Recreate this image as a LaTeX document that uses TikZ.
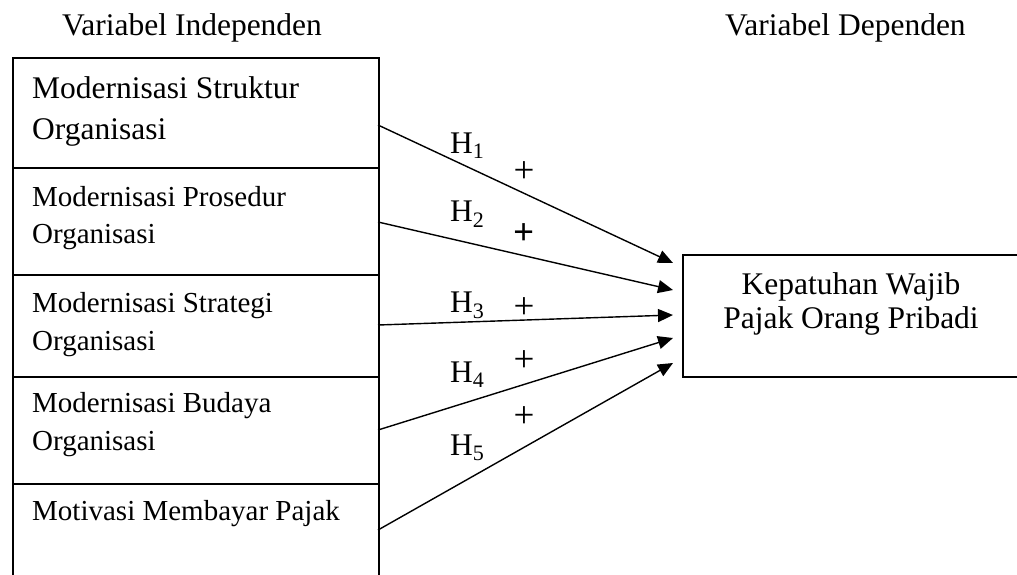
\documentclass[tikz,border=0pt]{standalone}
\usepackage{fontspec}
\setmainfont{Liberation Serif}
\usetikzlibrary{arrows.meta}
\begin{document}
\begin{tikzpicture}[x=1pt,y=-1pt,
  cell/.style={draw,line width=1.9pt,inner sep=0pt,anchor=north west},
  lbl/.style={inner sep=0pt,anchor=base west,font=\fontsize{29}{34}\selectfont},
  big/.style={inner sep=0pt,font=\fontsize{31.5}{36}\selectfont},
  sign/.style={inner sep=0pt,anchor=base,font=\fontsize{37}{40}\selectfont},
  hyp/.style={line width=1.4pt,-{Triangle[length=15pt,width=13pt]}},
]
\useasboundingbox (0,0) rectangle (1017,574);

% column titles
\node[big,anchor=base west] (ti) at (62,35) {Variabel Independen};
\node[big,anchor=base west] (td) at (725,35) {Variabel Dependen};

% stacked cells of the independent variables (last one runs past the bottom)
\node[cell,minimum width=366pt,minimum height=110pt] (c1) at (12,57) {};
\node[cell,minimum width=366pt,minimum height=107pt] (c2) at (12,167) {};
\node[cell,minimum width=366pt,minimum height=102pt] (c3) at (12,274) {};
\node[cell,minimum width=366pt,minimum height=107pt] (c4) at (12,376) {};
\node[cell,minimum width=366pt,minimum height=120pt] (c5) at (12,483) {};

\node[big,anchor=base west] (c1a) at (32,98) {Modernisasi Struktur};
\node[big,anchor=base west] (c1b) at (32,139) {Organisasi};
\node[lbl] (c2a) at (32,206) {Modernisasi Prosedur};
\node[lbl] (c2b) at (32,243) {Organisasi};
\node[lbl] (c3a) at (32,312) {Modernisasi Strategi};
\node[lbl] (c3b) at (32,350) {Organisasi};
\node[lbl] (c4a) at (32,412) {Modernisasi Budaya};
\node[lbl] (c4b) at (32,450) {Organisasi};
\node[lbl] (c5a) at (32,520) {Motivasi Membayar Pajak};

% dependent variable (right side runs past the edge)
\node[cell,minimum width=345pt,minimum height=122pt] (t) at (682,254) {};
\node[big,anchor=base] (ta) at (851,294) {Kepatuhan Wajib};
\node[big,anchor=base] (tb) at (851,328) {Pajak Orang Pribadi};

% arrow ends
\coordinate (s1) at (378,125);
\coordinate (s2) at (378,222);
\coordinate (s3) at (378,325);
\coordinate (s4) at (378,430);
\coordinate (s5) at (378,530);
\coordinate (e1) at (673,263);
\coordinate (e2) at (673,290);
\coordinate (e3) at (673,315);
\coordinate (e4) at (673,338);
\coordinate (e5) at (673,363);

\draw[hyp] (s1) -- (e1);
\draw[hyp] (s2) -- (e2);
\draw[hyp] (s3) -- (e3);
\draw[hyp] (s4) -- (e4);
\draw[hyp] (s5) -- (e5);

% hypothesis labels
\node[big,anchor=base west] (h1) at (450,153) {H\textsubscript{1}};
\node[big,anchor=base west] (h2) at (450,221) {H\textsubscript{2}};
\node[big,anchor=base west] (h3) at (450,312) {H\textsubscript{3}};
\node[big,anchor=base west] (h4) at (450,382) {H\textsubscript{4}};
\node[big,anchor=base west] (h5) at (450,455) {H\textsubscript{5}};

\node[sign] (p1) at (524,182) {+};
\node[sign] (p2) at (524,244) {\textbf{+}};
\node[sign] (p3) at (524,318) {+};
\node[sign] (p4) at (524,371) {+};
\node[sign] (p5) at (524,427) {+};
\end{tikzpicture}
\end{document}
